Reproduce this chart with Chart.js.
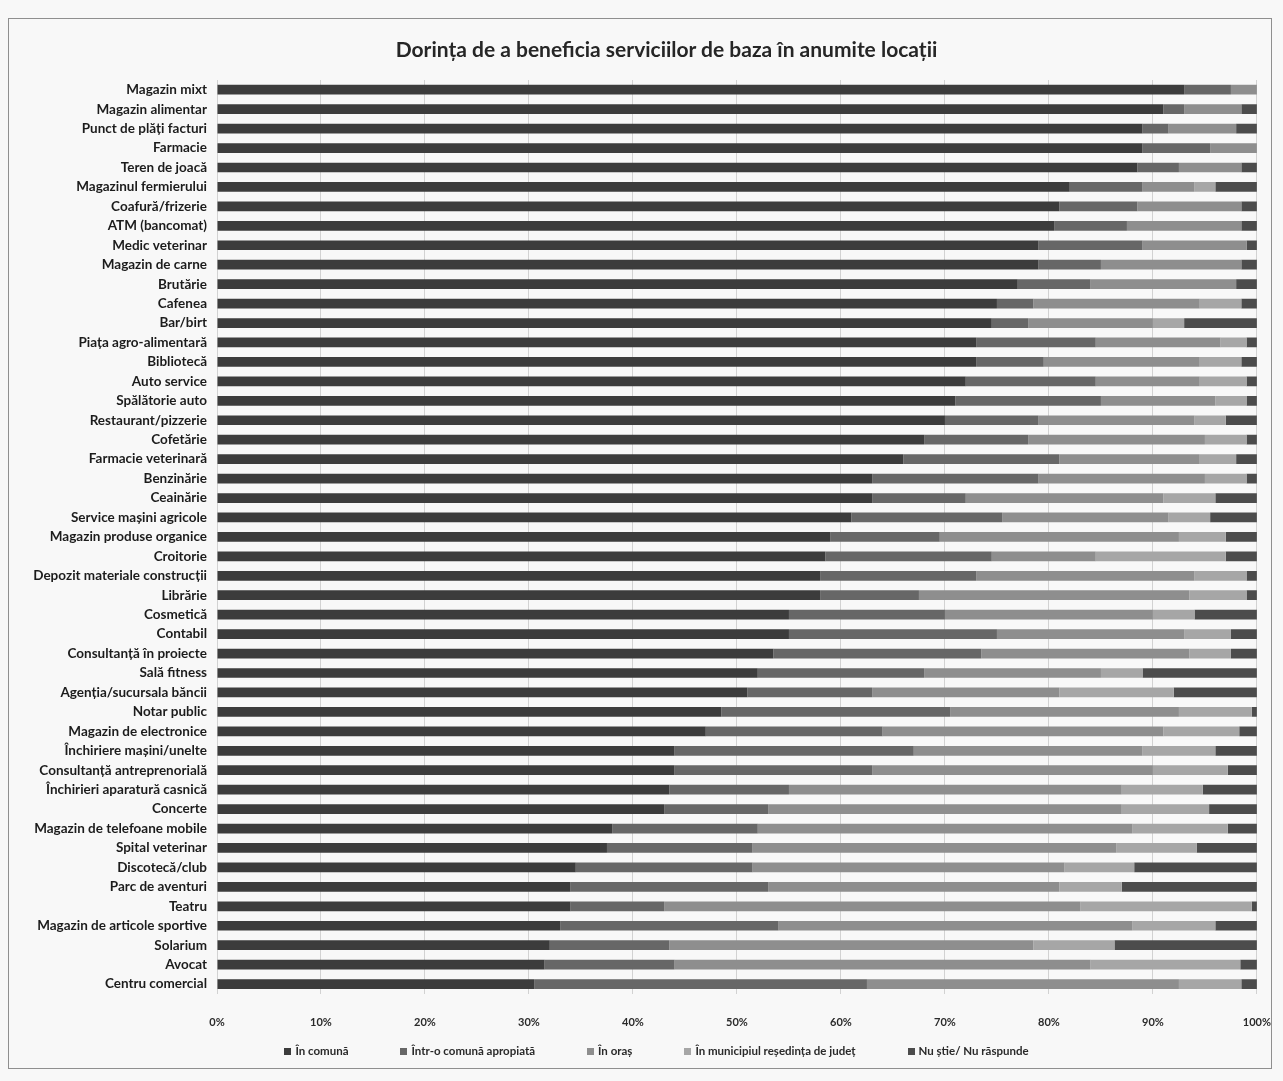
<!DOCTYPE html>
<html>
<head>
<meta charset="utf-8">
<script src="https://cdn.jsdelivr.net/npm/chart.js@4.4.1/dist/chart.umd.min.js"></script>
<style>
  html, body { margin: 0; padding: 0; background: #f8f8f8; overflow: hidden; }
  #wrap { position: relative; width: 1283px; height: 1081px; overflow: hidden; }
  #frame { position: absolute; left: 8px; top: 18px; width: 1264px; height: 1051px; border: 1px solid #8f8f8f; box-sizing: border-box; }
  canvas { position: absolute; left: 0; top: 0; }
  #title { position: absolute; left: 0; width: 1283px; top: 36px; text-align: center; padding-left: 50px; box-sizing: border-box;
           font-family: Lato, "Open Sans", sans-serif; font-weight: bold; font-size: 21px; color: #262626; white-space: nowrap; }
  #legend { position: absolute; left: 0; width: 1283px; top: 1044px; text-align: center; padding-left: 30px; box-sizing: border-box;
            font-family: Lato, "Open Sans", sans-serif; font-weight: bold; font-size: 11.5px; color: #2a2a2a; white-space: nowrap; }
  #legend span.item { display: inline-block; margin: 0 26px; }
  #legend span.box { display: inline-block; width: 7px; height: 7px; margin-right: 4px; vertical-align: 0px; }
</style>
</head>
<body>
<div id="wrap">
  <div id="frame"></div>
  <canvas id="chart" width="1293" height="1081"></canvas>
  <div id="title">Dorința de a beneficia serviciilor de baza în anumite locații</div>
  <div id="legend"></div>
</div>
<script>
// categorii (de sus în jos)
const categories = [
  "Magazin mixt", "Magazin alimentar", "Punct de plăți facturi", "Farmacie", "Teren de joacă",
  "Magazinul fermierului", "Coafură/frizerie", "ATM (bancomat)", "Medic veterinar", "Magazin de carne",
  "Brutărie", "Cafenea", "Bar/birt", "Piața agro-alimentară", "Bibliotecă",
  "Auto service", "Spălătorie auto", "Restaurant/pizzerie", "Cofetărie", "Farmacie veterinară",
  "Benzinărie", "Ceainărie", "Service mașini agricole", "Magazin produse organice", "Croitorie",
  "Depozit materiale construcții", "Librărie", "Cosmetică", "Contabil", "Consultanță în proiecte",
  "Sală fitness", "Agenția/sucursala băncii", "Notar public", "Magazin de electronice", "Închiriere mașini/unelte",
  "Consultanță antreprenorială", "Închirieri aparatură casnică", "Concerte", "Magazin de telefoane mobile", "Spital veterinar",
  "Discotecă/club", "Parc de aventuri", "Teatru", "Magazin de articole sportive", "Solarium",
  "Avocat", "Centru comercial"
];

const inComuna = [
  93, 91, 89, 89, 88.5, 82, 81, 80.5, 79, 79,
  77, 75, 74.5, 73, 73, 72, 71, 70, 68, 66,
  63, 63, 61, 59, 58.5, 58, 58, 55, 55, 53.5,
  52, 51, 48.5, 47, 44, 44, 43.5, 43, 38, 37.5,
  34.5, 34, 34, 33, 32, 31.5, 30.5
];
const comunaApropiata = [
  4.5, 2, 2.5, 6.5, 4, 7, 7.5, 7, 10, 6,
  7, 3.5, 3.5, 11.5, 6.5, 12.5, 14, 9, 10, 15,
  16, 9, 14.5, 10.5, 16, 15, 9.5, 15, 20, 20,
  16, 12, 22, 17, 23, 19, 11.5, 10, 14, 14,
  17, 19, 9, 21, 11.5, 12.5, 32
];
const inOras = [
  2.5, 5.5, 6.5, 4.5, 6, 5, 10, 11, 10, 13.5,
  14, 16, 12, 12, 15, 10, 11, 15, 17, 13.5,
  16, 19, 16, 23, 10, 21, 26, 20, 18, 20,
  17, 18, 22, 27, 22, 27, 32, 34, 36, 35,
  30, 28, 40, 34, 35, 40, 30
];
const inMunicipiu = [
  0, 0, 0, 0, 0, 2, 0, 0, 0, 0,
  0, 4, 3, 2.5, 4, 4.5, 3, 3, 4, 3.5,
  4, 5, 4, 4.5, 12.5, 5, 5.5, 4, 4.5, 4,
  4, 11, 7, 7.3, 7, 7.2, 7.8, 8.4, 9.2, 7.7,
  6.7, 6, 16.5, 8, 7.8, 14.4, 6
];
const nuStie = [
  0, 1.5, 2, 0, 1.5, 4, 1.5, 1.5, 1, 1.5,
  2, 1.5, 7, 1, 1.5, 1, 1, 3, 1, 2,
  1, 4, 4.5, 3, 3, 1, 1, 6, 2.5, 2.5,
  11, 8, 0.5, 1.7, 4, 2.8, 5.2, 4.6, 2.8, 5.8,
  11.8, 13, 0.5, 4, 13.7, 1.6, 1.5
];

const seriesNames = [
  "În comună", "Într-o comună apropiată", "În oraș",
  "În municipiul reședința de județ", "Nu știe/ Nu răspunde"
];
const xTicks = [0, 10, 20, 30, 40, 50, 60, 70, 80, 90, 100];

const colors = ["#3c3c3c", "#676767", "#8e8e8e", "#a6a6a6", "#4c4c4c"];
const values = [inComuna, comunaApropiata, inOras, inMunicipiu, nuStie];

const FONT = "Lato, 'Open Sans', sans-serif";

const chart = new Chart(document.getElementById("chart").getContext("2d"), {
  type: "bar",
  data: {
    labels: categories,
    datasets: values.map((v, i) => ({
      label: seriesNames[i],
      data: v,
      backgroundColor: colors[i],
      borderWidth: 0,
      categoryPercentage: 1,
      barPercentage: 0.5
    }))
  },
  options: {
    indexAxis: "y",
    responsive: false,
    animation: false,
    layout: { padding: { left: 10, right: 16, top: 80, bottom: 30 } },
    plugins: {
      title: { display: false },
      legend: { display: false },
      tooltip: { enabled: false }
    },
    scales: {
      x: {
        stacked: true,
        min: 0,
        max: 100,
        afterBuildTicks: (scale) => { scale.ticks = xTicks.map((v) => ({ value: v })); },
        ticks: {
          color: "#2a2a2a",
          font: { family: FONT, size: 11, weight: "bold" },
          padding: 22,
          callback: (v) => v + "%"
        },
        grid: { color: "#d2d2d2", lineWidth: 1, drawTicks: false },
        border: { display: false }
      },
      y: {
        stacked: true,
        afterFit: (scale) => { scale.width = 207; },
        ticks: {
          color: "#1c1c1c",
          font: { family: FONT, size: 13.5, weight: "bold" },
          padding: 10,
          autoSkip: false
        },
        grid: { display: false, drawTicks: false },
        border: { display: false }
      }
    }
  }
});

// legenda
const legend = document.getElementById("legend");
chart.data.datasets.forEach((ds) => {
  const item = document.createElement("span");
  item.className = "item";
  const box = document.createElement("span");
  box.className = "box";
  box.style.background = ds.backgroundColor;
  item.appendChild(box);
  item.appendChild(document.createTextNode(ds.label));
  legend.appendChild(item);
});
</script>
</body>
</html>
